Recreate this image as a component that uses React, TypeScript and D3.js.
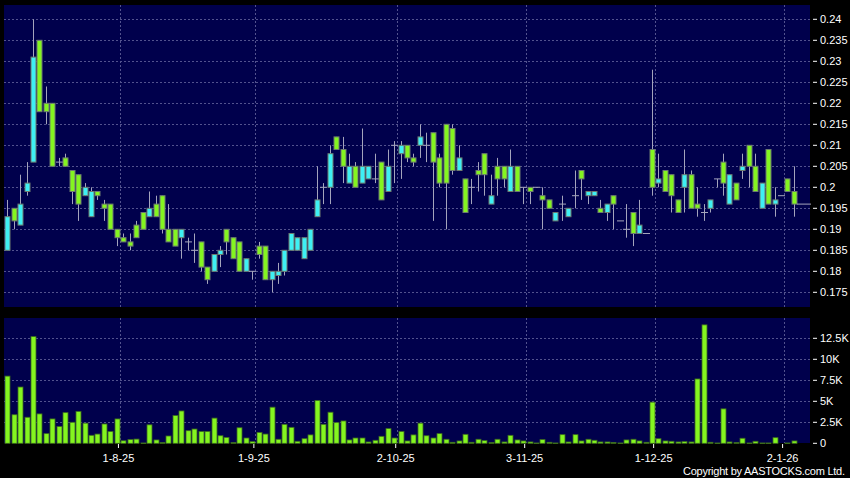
import React from 'react';
import * as d3 from 'd3';

// daily candles, oldest first (cyan = up, green = down)
const OPEN = [
  0.185, 0.195, 0.191, 0.199, 0.206, 0.235, 0.22, 0.22, 0.206, 0.207,
  0.204, 0.203, 0.198, 0.193, 0.199, 0.196, 0.196, 0.19, 0.188, 0.187,
  0.191, 0.194, 0.193, 0.196, 0.198, 0.19, 0.19, 0.188, 0.187, 0.185,
  0.187, 0.181, 0.18, 0.184, 0.19, 0.188, 0.187, 0.18, 0.18, 0.186,
  0.186, 0.178, 0.179, 0.18, 0.185, 0.185, 0.183, 0.185, 0.193, 0.2,
  0.2, 0.212, 0.209, 0.201, 0.205, 0.201, 0.202, 0.202, 0.206, 0.199,
  0.21, 0.208, 0.21, 0.207, 0.21, 0.21, 0.213, 0.207, 0.215, 0.214,
  0.204, 0.202, 0.2, 0.204, 0.208, 0.196, 0.205, 0.205, 0.199, 0.205,
  0.2, 0.2, 0.2, 0.198, 0.197, 0.192, 0.196, 0.193, 0.198, 0.204,
  0.198, 0.198, 0.195, 0.194, 0.198, 0.192, 0.19, 0.194, 0.189, 0.189,
  0.209, 0.201, 0.204, 0.203, 0.197, 0.2, 0.203, 0.196, 0.194, 0.195,
  0.202, 0.206, 0.196, 0.201, 0.204, 0.21, 0.205, 0.195, 0.209, 0.196,
  0.198, 0.202, 0.199, 0.196, 0.196,
];
const HIGH = [
  0.197, 0.195, 0.203, 0.206, 0.24, 0.235, 0.224, 0.22, 0.207, 0.208,
  0.204, 0.203, 0.201, 0.2, 0.199, 0.197, 0.196, 0.19, 0.189, 0.189,
  0.192, 0.194, 0.199, 0.198, 0.198, 0.196, 0.19, 0.19, 0.188, 0.189,
  0.187, 0.181, 0.184, 0.186, 0.19, 0.188, 0.187, 0.183, 0.18, 0.187,
  0.186, 0.18, 0.182, 0.185, 0.189, 0.188, 0.188, 0.19, 0.205, 0.201,
  0.21, 0.212, 0.212, 0.208, 0.206, 0.214, 0.205, 0.208, 0.206, 0.209,
  0.211, 0.211, 0.21, 0.208, 0.215, 0.213, 0.213, 0.208, 0.215, 0.215,
  0.21, 0.202, 0.202, 0.206, 0.208, 0.203, 0.207, 0.205, 0.209, 0.205,
  0.2, 0.2, 0.2, 0.2, 0.197, 0.194, 0.198, 0.195, 0.204, 0.204,
  0.199, 0.199, 0.197, 0.196, 0.198, 0.192, 0.196, 0.194, 0.197, 0.189,
  0.228, 0.208, 0.204, 0.203, 0.197, 0.209, 0.204, 0.2, 0.196, 0.197,
  0.202, 0.208, 0.203, 0.201, 0.208, 0.21, 0.208, 0.201, 0.209, 0.2,
  0.198, 0.202, 0.205, 0.196, 0.196,
];
const LOW = [
  0.185, 0.19, 0.191, 0.198, 0.206, 0.218, 0.215, 0.205, 0.205, 0.205,
  0.196, 0.192, 0.198, 0.193, 0.197, 0.192, 0.19, 0.186, 0.187, 0.185,
  0.188, 0.19, 0.193, 0.193, 0.189, 0.187, 0.186, 0.183, 0.185, 0.182,
  0.18, 0.177, 0.18, 0.181, 0.184, 0.183, 0.18, 0.18, 0.178, 0.183,
  0.178, 0.175, 0.177, 0.179, 0.185, 0.185, 0.183, 0.185, 0.193, 0.196,
  0.196, 0.209, 0.201, 0.201, 0.2, 0.201, 0.202, 0.201, 0.197, 0.199,
  0.201, 0.202, 0.206, 0.205, 0.207, 0.206, 0.192, 0.2, 0.19, 0.203,
  0.204, 0.194, 0.196, 0.199, 0.198, 0.196, 0.198, 0.2, 0.199, 0.199,
  0.196, 0.196, 0.2, 0.19, 0.195, 0.192, 0.192, 0.193, 0.195, 0.197,
  0.196, 0.198, 0.194, 0.192, 0.19, 0.192, 0.188, 0.186, 0.189, 0.189,
  0.198, 0.2, 0.199, 0.194, 0.194, 0.194, 0.195, 0.193, 0.192, 0.194,
  0.2, 0.198, 0.196, 0.197, 0.202, 0.2, 0.199, 0.195, 0.196, 0.193,
  0.198, 0.199, 0.193, 0.196, 0.196,
];
const CLOSE = [
  0.193, 0.192, 0.196, 0.201, 0.231, 0.218, 0.218, 0.205, 0.206, 0.205,
  0.199, 0.196, 0.2, 0.199, 0.198, 0.195, 0.19, 0.188, 0.187, 0.186,
  0.188, 0.19, 0.195, 0.193, 0.19, 0.187, 0.186, 0.19, 0.187, 0.185,
  0.181, 0.178, 0.184, 0.185, 0.187, 0.183, 0.18, 0.183, 0.18, 0.184,
  0.178, 0.18, 0.18, 0.185, 0.189, 0.188, 0.188, 0.19, 0.197, 0.2,
  0.208, 0.209, 0.205, 0.205, 0.2, 0.205, 0.205, 0.202, 0.197, 0.205,
  0.21, 0.21, 0.207, 0.206, 0.212, 0.21, 0.206, 0.201, 0.201, 0.204,
  0.207, 0.194, 0.2, 0.203, 0.203, 0.198, 0.202, 0.202, 0.205, 0.199,
  0.2, 0.199, 0.2, 0.197, 0.195, 0.194, 0.196, 0.195, 0.198, 0.202,
  0.199, 0.199, 0.194, 0.196, 0.196, 0.192, 0.19, 0.189, 0.191, 0.189,
  0.2, 0.202, 0.199, 0.198, 0.194, 0.203, 0.195, 0.195, 0.194, 0.197,
  0.202, 0.201, 0.203, 0.197, 0.205, 0.205, 0.199, 0.201, 0.196, 0.197,
  0.198, 0.199, 0.196, 0.196, 0.196,
];
// volume in thousands of shares
const VOLUME = [
  8.0, 3.4, 6.7, 3.1, 12.7, 3.5, 1.15, 2.9, 2.0, 3.65,
  2.5, 3.8, 2.4, 0.95, 1.1, 2.3, 1.4, 2.9, 0.3, 0.45,
  0.5, 0.04, 2.2, 0.4, 0.08, 0.87, 3.3, 3.85, 1.5, 1.7,
  1.4, 1.4, 3.0, 0.9, 0.7, 0.08, 1.85, 0.63, 0.2, 1.3,
  1.1, 4.3, 0.48, 2.26, 1.9, 0.24, 0.55, 1.0, 5.1, 2.26,
  3.7, 2.46, 2.66, 0.4, 0.63, 0.63, 0.16, 0.36, 0.83, 1.75,
  0.63, 1.4, 0.28, 1.0, 2.4, 0.9, 0.63, 1.15, 0.48, 0.12,
  0.28, 1.07, 0.12, 0.48, 0.32, 0.08, 0.48, 0.16, 0.95, 0.4,
  0.28, 0.16, 0.04, 0.44, 0.12, 0.04, 1.03, 0.16, 1.03, 0.28,
  0.48, 0.36, 0.16, 0.16, 0.1, 0.04, 0.4, 0.48, 0.28, 0.12,
  4.9, 0.55, 0.28, 0.24, 0.16, 0.2, 0.16, 7.66, 14.1, 0.12,
  0.04, 4.1, 0.16, 0.08, 0.6, 0.04, 0.24, 0.04, 0.04, 0.67,
  0, 0.04, 0.28, 0, 0,
];

// first trading day of each month (candle index) and its label
const MONTH_IDX = [18, 39, 61, 81, 101, 121];
const MONTH_LABELS = ['1-8-25', '1-9-25', '2-10-25', '3-11-25', '1-12-25', '2-1-26'];
const PRICE_TICKS = [0.175, 0.18, 0.185, 0.19, 0.195, 0.2, 0.205, 0.21, 0.215, 0.22, 0.225, 0.23, 0.235, 0.24];
const VOL_TICKS = [0, 2.5, 5, 7.5, 10, 12.5];
const VOL_LABELS = ['0', '2.5K', '5K', '7.5K', '10K', '12.5K'];

const NAVY = '#00004c';
const UP = '#3ef0f4';
const DOWN = '#84f520';
const WICK = '#a4a4bc';
const EDGE = '#6c7a70';
const GRID = '#52528e';
const FONT = '"Liberation Sans", Arial, sans-serif';

export default function App() {
  const width = 850;
  const height = 478;
  const left = 4;
  const right = 810;
  const price = { top: 5, bottom: 307 };
  const vol = { top: 318, bottom: 443 };

  const x = d3.scaleBand<number>().domain(d3.range(OPEN.length)).range([left, right]);
  const step = x.step();
  const cx = (i: number) => (x(i) as number) + x.bandwidth() / 2;

  const yP = d3.scaleLinear().domain([0.175, 0.24]).range([292.3, 19.3]);
  const yV = d3.scaleLinear().domain([0, 12.5]).range([443.3, 338.3]);

  const gridX = MONTH_IDX.map(i => (x(i) as number));
  const fmt = (v: number) => String(+v.toFixed(3));

  return (
    <svg
      width={width}
      height={height}
      style={{ position: 'absolute', left: 0, top: 0, display: 'block', background: '#000' }}
      fontFamily={FONT}
    >
      <rect x={0} y={0} width={width} height={height} fill="#000" />
      {/* Price panel */}
      <rect x={left} y={price.top} width={right - left} height={price.bottom - price.top} fill={NAVY} />
      {PRICE_TICKS.map(t => (
        <line key={t} x1={left} x2={right} y1={Math.round(yP(t)) + 0.5} y2={Math.round(yP(t)) + 0.5}
          stroke={GRID} strokeDasharray="2,2" />
      ))}
      {gridX.map((gx, i) => (
        <line key={i} x1={Math.round(gx) + 0.5} x2={Math.round(gx) + 0.5} y1={price.top} y2={price.bottom}
          stroke={GRID} strokeDasharray="2,2" />
      ))}
      {/* Candles */}
      {OPEN.map((o, i) => {
        const c = CLOSE[i];
        const xc = Math.round(cx(i)) + 0.5;
        const hi = yP(HIGH[i]);
        const lo = yP(LOW[i]);
        if (o === c) {
          return (
            <g key={i}>
              <line x1={xc} x2={xc} y1={hi} y2={lo} stroke={WICK} />
              <line x1={xc - 3.5} x2={xc + 3.5} y1={yP(c)} y2={yP(c)} stroke={WICK} />
            </g>
          );
        }
        const top = yP(Math.max(o, c));
        const bot = yP(Math.min(o, c));
        return (
          <g key={i}>
            <line x1={xc} x2={xc} y1={hi} y2={lo} stroke={WICK} />
            <rect x={xc - 2.5} y={top} width={5} height={Math.max(1, bot - top)}
              fill={c > o ? UP : DOWN} stroke={EDGE} strokeWidth={1} />
          </g>
        );
      })}
      {/* Price axis */}
      {PRICE_TICKS.map(t => (
        <g key={t}>
          <line x1={813} x2={817} y1={yP(t)} y2={yP(t)} stroke="#fff" />
          <text x={820} y={yP(t)} dy="0.35em" fontSize={11} fill="#fff">{fmt(t)}</text>
        </g>
      ))}

      {/* Volume panel */}
      <rect x={left} y={vol.top} width={right - left} height={vol.bottom - vol.top} fill={NAVY} />
      {VOL_TICKS.slice(1).map(t => (
        <line key={t} x1={left} x2={right} y1={Math.round(yV(t)) + 0.5} y2={Math.round(yV(t)) + 0.5}
          stroke={GRID} strokeDasharray="2,2" />
      ))}
      {gridX.map((gx, i) => (
        <line key={i} x1={Math.round(gx) + 0.5} x2={Math.round(gx) + 0.5} y1={vol.top} y2={vol.bottom}
          stroke={GRID} strokeDasharray="2,2" />
      ))}
      {VOLUME.map((v, i) => {
        if (v <= 0) return null;
        const xc = Math.round(cx(i)) + 0.5;
        const top = yV(v);
        return (
          <rect key={i} x={xc - 2.5} y={top} width={5} height={Math.max(0.5, yV(0) - top)}
            fill={DOWN} stroke="#3c6a20" strokeWidth={0.8} />
        );
      })}
      {VOL_TICKS.map((t, i) => (
        <g key={t}>
          <line x1={813} x2={817} y1={yV(t)} y2={yV(t)} stroke="#fff" />
          <text x={820} y={yV(t)} dy="0.35em" fontSize={11} fill="#fff">{VOL_LABELS[i]}</text>
        </g>
      ))}

      {/* Date axis */}
      {MONTH_IDX.map((idx, i) => {
        const tx = (x(idx) as number) - step * 0.25;
        return (
          <g key={idx}>
            <line x1={tx} x2={tx} y1={vol.bottom + 1} y2={vol.bottom + 5} stroke="#fff" />
            <text x={tx} y={462} textAnchor="middle" fontSize={11} fill="#fff">{MONTH_LABELS[i]}</text>
          </g>
        );
      })}

      <text x={683} y={475} fontSize={11} fill="#fff" textLength={162} lengthAdjust="spacing">
        Copyright by AASTOCKS.com Ltd.
      </text>
    </svg>
  );
}
